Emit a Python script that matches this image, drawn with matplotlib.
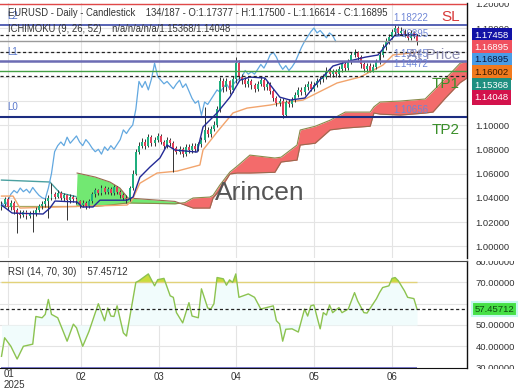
import matplotlib
matplotlib.use("Agg")
import matplotlib.pyplot as plt
from matplotlib.transforms import Bbox, TransformedBbox
import numpy as np

plt.rcParams['font.family'] = ['Liberation Sans', 'DejaVu Sans']

# daily EURUSD candles, bar index 0..133
opens = [1.0320, 1.0350, 1.0390, 1.0320, 1.0360, 1.0300, 1.0270, 1.0260, 1.0280, 1.0250,
         1.0275, 1.0265, 1.0300, 1.0330, 1.0350, 1.0370, 1.0400, 1.0430, 1.0410, 1.0440,
         1.0400, 1.0420, 1.0380, 1.0410, 1.0390, 1.0370, 1.0340, 1.0360, 1.0330, 1.0370,
         1.0430, 1.0460, 1.0440, 1.0480, 1.0450, 1.0470, 1.0440, 1.0485, 1.0450, 1.0420,
         1.0400, 1.0390, 1.0480, 1.0600, 1.0780, 1.0830, 1.0860, 1.0830, 1.0900, 1.0850,
         1.0880, 1.0910, 1.0860, 1.0830, 1.0880, 1.0850, 1.0810, 1.0780, 1.0800, 1.0760,
         1.0820, 1.0790, 1.0830, 1.0800, 1.0840, 1.0880, 1.0960, 1.0930, 1.0970, 1.1000,
         1.1130, 1.1360, 1.1310, 1.1360, 1.1290, 1.1380, 1.1510, 1.1400, 1.1370, 1.1340,
         1.1360, 1.1330, 1.1300, 1.1340, 1.1370, 1.1310, 1.1340, 1.1280, 1.1220, 1.1180,
         1.1200, 1.1080, 1.1190, 1.1170, 1.1210, 1.1250, 1.1290, 1.1270, 1.1310, 1.1340,
         1.1300, 1.1330, 1.1360, 1.1380, 1.1400, 1.1450, 1.1420, 1.1440, 1.1420, 1.1460,
         1.1500, 1.1470, 1.1520, 1.1580, 1.1600, 1.1560, 1.1500, 1.1460, 1.1490, 1.1450,
         1.1480, 1.1520, 1.1580, 1.1640, 1.1690, 1.1730, 1.1770, 1.1800, 1.1760, 1.1780,
         1.1750, 1.1720, 1.1760, 1.17377]
highs = [1.0375, 1.0410, 1.0405, 1.0385, 1.0370, 1.0315, 1.0295, 1.0300, 1.0295, 1.0290,
         1.0295, 1.0320, 1.0350, 1.0375, 1.0395, 1.0420, 1.0520, 1.0450, 1.0465, 1.0455,
         1.0440, 1.0435, 1.0430, 1.0425, 1.0405, 1.0385, 1.0380, 1.0375, 1.0390, 1.0450,
         1.0480, 1.0475, 1.0505, 1.0495, 1.0490, 1.0485, 1.0505, 1.0500, 1.0465, 1.0440,
         1.0420, 1.0500, 1.0625, 1.0800, 1.0860, 1.0890, 1.0885, 1.0930, 1.0920, 1.0905,
         1.0935, 1.0925, 1.0880, 1.0900, 1.0895, 1.0870, 1.0830, 1.0825, 1.0815, 1.0840,
         1.0845, 1.0850, 1.0850, 1.0860, 1.0905, 1.1150, 1.0985, 1.0995, 1.1030, 1.1160,
         1.1400, 1.1390, 1.1390, 1.1375, 1.1405, 1.1560, 1.1540, 1.1420, 1.1395, 1.1385,
         1.1380, 1.1350, 1.1360, 1.1395, 1.1385, 1.1365, 1.1355, 1.1300, 1.1240, 1.1225,
         1.1220, 1.1210, 1.1215, 1.1235, 1.1275, 1.1310, 1.1315, 1.1335, 1.1365, 1.1360,
         1.1355, 1.1385, 1.1405, 1.1425, 1.1475, 1.1470, 1.1465, 1.1460, 1.1485, 1.1525,
         1.1520, 1.1545, 1.1605, 1.1630, 1.1615, 1.1575, 1.1520, 1.1515, 1.1510, 1.1505,
         1.1545, 1.1600, 1.1665, 1.1715, 1.1755, 1.1795, 1.18222, 1.1815, 1.1805, 1.1795,
         1.1770, 1.1785, 1.1780, 1.17500]
lows = [1.0300, 1.0330, 1.0295, 1.0300, 1.0270, 1.0110, 1.0235, 1.0240, 1.0225, 1.0230,
        1.0115, 1.0250, 1.0280, 1.0310, 1.0325, 1.0233, 1.0385, 1.0390, 1.0395, 1.0380,
        1.0375, 1.0216, 1.0360, 1.0365, 1.0345, 1.0315, 1.0320, 1.0305, 1.0315, 1.0355,
        1.0410, 1.0420, 1.0425, 1.0430, 1.0430, 1.0420, 1.0425, 1.0430, 1.0395, 1.0380,
        1.0360, 1.0375, 1.0465, 1.0590, 1.0760, 1.0810, 1.0805, 1.0815, 1.0830, 1.0830,
        1.0860, 1.0840, 1.0805, 1.0810, 1.0825, 1.0610, 1.0760, 1.0760, 1.0740, 1.0745,
        1.0770, 1.0770, 1.0780, 1.0785, 1.0820, 1.0860, 1.0900, 1.0905, 1.0950, 1.0980,
        1.1110, 1.1270, 1.1280, 1.1260, 1.1270, 1.1350, 1.1380, 1.1340, 1.1310, 1.1315,
        1.1300, 1.1275, 1.1280, 1.1320, 1.1290, 1.1290, 1.1260, 1.1200, 1.1160, 1.1155,
        1.1060, 1.1070, 1.1150, 1.1150, 1.1190, 1.1230, 1.1245, 1.1250, 1.1290, 1.1280,
        1.1280, 1.1310, 1.1340, 1.1355, 1.1380, 1.1400, 1.1400, 1.1395, 1.1400, 1.1440,
        1.1450, 1.1455, 1.1500, 1.1560, 1.1540, 1.1470, 1.1435, 1.1440, 1.1435, 1.1435,
        1.1460, 1.1500, 1.1560, 1.1620, 1.1670, 1.1710, 1.1750, 1.1740, 1.1740, 1.1730,
        1.1700, 1.1700, 1.1715, 1.16614]
closes = [1.0350, 1.0390, 1.0320, 1.0360, 1.0300, 1.0270, 1.0260, 1.0280, 1.0250, 1.0275,
          1.0265, 1.0300, 1.0330, 1.0350, 1.0370, 1.0400, 1.0430, 1.0410, 1.0440, 1.0400,
          1.0420, 1.0380, 1.0410, 1.0390, 1.0370, 1.0340, 1.0360, 1.0330, 1.0370, 1.0430,
          1.0460, 1.0440, 1.0480, 1.0450, 1.0470, 1.0440, 1.0485, 1.0450, 1.0420, 1.0400,
          1.0390, 1.0480, 1.0600, 1.0780, 1.0830, 1.0860, 1.0830, 1.0900, 1.0850, 1.0880,
          1.0910, 1.0860, 1.0830, 1.0880, 1.0850, 1.0810, 1.0780, 1.0800, 1.0760, 1.0820,
          1.0790, 1.0830, 1.0800, 1.0840, 1.0880, 1.0960, 1.0930, 1.0970, 1.1000, 1.1130,
          1.1360, 1.1310, 1.1360, 1.1290, 1.1380, 1.1510, 1.1400, 1.1370, 1.1340, 1.1360,
          1.1330, 1.1300, 1.1340, 1.1370, 1.1310, 1.1340, 1.1280, 1.1220, 1.1180, 1.1200,
          1.1080, 1.1190, 1.1170, 1.1210, 1.1250, 1.1290, 1.1270, 1.1310, 1.1340, 1.1300,
          1.1330, 1.1360, 1.1380, 1.1400, 1.1450, 1.1420, 1.1440, 1.1420, 1.1460, 1.1500,
          1.1470, 1.1520, 1.1580, 1.1600, 1.1560, 1.1500, 1.1460, 1.1490, 1.1450, 1.1480,
          1.1520, 1.1580, 1.1640, 1.1690, 1.1730, 1.1770, 1.1800, 1.1760, 1.1780, 1.1750,
          1.1720, 1.1760, 1.1738, 1.16895]

# ichimoku lines (bar, value)
tenkan_x = [0, 3.4, 13.3, 15.5, 17.1, 24.2, 25.8, 29.3, 31.5, 40.2, 42.1, 44.3, 47.5, 50.7,
            53, 55.5, 62.6, 64.5, 69, 73.1, 76.3, 79.5, 84.3, 89.1, 92.4, 97.1, 100.4,
            106.1, 112.5, 116.4, 120.5, 123.7, 126, 133]
tenkan_y = [1.0340, 1.0274, 1.0266, 1.0315, 1.0373, 1.0365, 1.0324, 1.0324, 1.0380, 1.0380,
            1.0406, 1.0570, 1.0653, 1.0728, 1.0835, 1.0794, 1.0777, 1.0984, 1.1100, 1.1230,
            1.1370, 1.1396, 1.1388, 1.1230, 1.1206, 1.1223, 1.1330, 1.1487, 1.1536, 1.1560,
            1.1578, 1.1677, 1.1743, 1.17458]
kijun_x = [0, 3.7, 5.9, 40.2, 41.8, 44.3, 49.8, 56.2, 63.5, 64.5, 69, 74.1, 78.6, 86,
           89.1, 96.5, 107.4, 114.8, 122.1, 125.3, 133]
kijun_y = [1.0414, 1.0414, 1.0315, 1.0340, 1.0380, 1.0520, 1.0604, 1.0620, 1.0670, 1.0794,
           1.0942, 1.1100, 1.1140, 1.1165, 1.1180, 1.1206, 1.1347, 1.1396, 1.1495, 1.1578,
           1.16002]
cloud_x = [0, 15.5, 18.7, 23.8, 24.2, 30, 34.7, 37.9, 40.5, 55.5, 58.7, 61.3, 66.7, 67.7,
           69.9, 73.1, 75.4, 79.5, 87.5, 89.5, 94.6, 95.6, 100.4, 105.2, 110, 118, 119.2,
           121.2, 127.6, 135.6, 138.1, 142, 146.8, 150]
span_a = [1.0330, 1.0330, 1.0330, 1.0330, 1.0330, 1.0330, 1.0340, 1.0350, 1.0357, 1.0350,
          1.0360, 1.0398, 1.0406, 1.0420, 1.0505, 1.0612, 1.0660, 1.0752, 1.0728, 1.0735,
          1.0835, 1.0959, 1.0990, 1.1040, 1.1107, 1.1107, 1.1150, 1.1190, 1.1198, 1.1215,
          1.1280, 1.1380, 1.1510, 1.15368]
span_b = [1.0546, 1.0530, 1.0440, 1.0410, 1.0604, 1.0571, 1.0530, 1.0480, 1.0398, 1.0370,
          1.0340, 1.0315, 1.0315, 1.0398, 1.0464, 1.0596, 1.0604, 1.0604, 1.0610, 1.0695,
          1.0711, 1.0835, 1.0850, 1.0960, 1.0975, 1.0990, 1.1099, 1.1090, 1.1082, 1.1099,
          1.1107, 1.1220, 1.1350, 1.14048]
cloud_start = 24

# horizontal levels
level_vals = [1.2000, 1.18222, 1.17458, 1.16895, 1.16002, 1.15245, 1.14472, 1.14048, 1.10656]
level_cols = ['#e04848', '#3a48a8', '#222222', '#9a9a9a', '#222222', '#6c6cb4', '#45a045',
              '#222222', '#1c2c80']
level_lw = [1.0, 1.2, 0.9, 1.0, 0.9, 1.8, 1.0, 0.9, 1.5]
level_dash = [False, False, True, False, True, False, False, True, False]

tag_texts = ['1.17458', '1.16895', '1.16895', '1.16002', '1.15368', '1.14048']
tag_bg = ['#1212a6', '#f0505e', '#4a9ce6', '#f27a1e', '#1f8f80', '#d3124c']
tag_fg = ['white', 'white', '#0c1a40', '#3a1a00', 'white', 'white']

# RSI(14)
rsi_x = [0, 1, 3, 5, 7, 10, 11, 13, 14, 15, 16, 18, 21, 23, 24, 26, 28, 31, 33, 34,
         35, 36, 37, 39, 40, 43, 44, 47, 49, 50, 52, 54, 55, 56, 58, 60, 61, 63, 64, 66,
         67, 68, 69, 71, 72, 73, 74, 75, 76, 79, 81, 83, 87, 88, 89, 90, 91, 93, 95, 97,
         98, 99, 100, 102, 103, 104, 105, 106, 108, 109, 111, 113, 114, 116, 117, 120, 121, 122, 124, 125,
         126, 127, 128, 129, 130, 132, 133]
rsi_v = [35.3, 44, 40, 34, 40, 41, 54, 53.4, 55, 62, 55, 53.4, 42.4, 50.4, 48.7, 40, 47, 60, 52, 58,
         54.2, 54, 59, 46.3, 44.8, 70, 70.8, 74, 68.4, 71.3, 71.9, 63.7, 63, 55.8, 51, 60.5, 54.2, 53.4, 67, 58,
         57.5, 60, 72.3, 71.7, 68.7, 71.2, 70, 74, 63, 64.6, 63, 57.5, 59, 52, 50.5, 42.4, 48, 48.2, 46.7, 57.5,
         54.2, 59, 59.4, 48.2, 55.8, 54.7, 59.4, 55.8, 58.2, 55.8, 57.5, 65.2, 61.3, 55.8, 55.6, 62.3, 65.2, 67.6, 68.4, 71.9,
         72.3, 70.8, 68.4, 66, 63, 62.4, 57.45712]
rsi_last = 57.45712

month_ticks = [2, 25.5, 50.5, 75, 100, 125]
month_labels = ['01', '02', '03', '04', '05', '06']

W, H = 520, 390
def fx(px):
    return px / W
def fy(py):
    return 1 - py / H

fig = plt.figure(figsize=(5.2, 3.9), dpi=100)
ax = fig.add_axes([0, fy(258), fx(467), fy(3) - fy(258)])
ax2 = fig.add_axes([0, fy(368), fx(467), fy(260.5) - fy(368)], sharex=ax)

x = np.arange(len(closes))
o = np.array(opens); h = np.array(highs); l = np.array(lows); c = np.array(closes)
up = c >= o

# grid
for a in (ax, ax2):
    a.set_facecolor('white')
    a.grid(True, color='#e4e4e4', lw=0.8)
    a.set_axisbelow(True)
    for s in ('left', 'top', 'bottom'):
        a.spines[s].set_visible(False)
    a.spines['right'].set_color('#111111')
    a.spines['right'].set_linewidth(1.0)
    a.yaxis.tick_right()
    a.tick_params(axis='y', length=0, pad=6, labelsize=6.8, labelcolor='#333333')
    a.tick_params(axis='x', length=0)

ax.set_xlim(-0.48, 149.0)
ax.set_ylim(0.9903, 1.2007)
ax.set_yticks(np.arange(1.00, 1.2001, 0.02))
ax.yaxis.set_major_formatter(plt.FormatStrFormatter('%.5f'))
ax.set_xticks(month_ticks[1:])
plt.setp(ax.get_xticklabels(), visible=False)

# cloud
cx = np.array(cloud_x); sa = np.array(span_a); sb = np.array(span_b)
ax.fill_between(cx, sa, sb, where=(sa >= sb) & (cx >= cloud_start), interpolate=True,
                color='#f36b6b', lw=0, zorder=2)
ax.fill_between(cx, sa, sb, where=(sb >= sa) & (cx >= cloud_start), interpolate=True,
                color='#72e872', lw=0, zorder=2)
left = cx <= cloud_start
ax.plot(cx[left], sa[left], color='#a8a860', lw=0.9, zorder=3)
ax.plot(cx[~left], sa[~left], color='#8a8a4a', lw=0.8, zorder=3)
ax.plot(cx[cx < cloud_start], sb[cx < cloud_start], color='#4aa0a0', lw=1.0, zorder=3)
ax.plot(cx[cx >= cloud_start], sb[cx >= cloud_start], color='#9a6a50', lw=0.8, zorder=3)

# chikou (close shifted back 26 bars)
ax.plot(x[:-26], c[26:], color='#62a8e0', lw=0.9, zorder=3)
ax.plot(kijun_x, kijun_y, color='#f2a46c', lw=1.0, zorder=3)
ax.plot(tenkan_x, tenkan_y, color='#232a96', lw=1.0, zorder=5)

# candles
ax.vlines(x, l, h, color='#333333', lw=0.7, zorder=4)
ax.bar(x[up], (c - o)[up], bottom=o[up], width=0.62, color='#1fae7e', lw=0, zorder=4)
ax.bar(x[~up], (c - o)[~up], bottom=o[~up], width=0.62, color='#e2405a', lw=0, zorder=4)

# levels
for v, col, lw, dsh in zip(level_vals, level_cols, level_lw, level_dash):
    if dsh:
        ax.axhline(v, color=col, lw=lw, ls=(0, (2.5, 2.0)), zorder=6)
    else:
        ax.axhline(v, color=col, lw=lw, zorder=6)

ytr = ax.get_yaxis_transform()
for txt, v in [('L2', level_vals[1]), ('L1', level_vals[5]), ('L0', level_vals[8])]:
    ax.annotate(txt, xy=(0.016, v), xycoords=ytr, xytext=(0, 7), textcoords='offset points',
                va='center', ha='left', fontsize=7, color='#5a78cc', zorder=7)
for v in [level_vals[1], level_vals[3], level_vals[5], level_vals[6], level_vals[8]]:
    ax.annotate('%.5f' % v, xy=(125.3, v), xytext=(0, 1.5), textcoords='offset points',
                va='bottom', ha='left', fontsize=7, color='#6f86d6', zorder=7)
ax.annotate('SL', xy=(0.985, level_vals[0]), xycoords=ytr, xytext=(0, -9.5),
            textcoords='offset points', va='center', ha='right', fontsize=11, color='#d83a3a', zorder=7)
ax.annotate('TP1', xy=(0.985, level_vals[6]), xycoords=ytr, xytext=(0, -9.5),
            textcoords='offset points', va='center', ha='right', fontsize=11, color='#3a8f2a', zorder=7)
ax.annotate('TP2', xy=(0.985, level_vals[8]), xycoords=ytr, xytext=(0, -9.5),
            textcoords='offset points', va='center', ha='right', fontsize=11, color='#3a8f2a', zorder=7)
ax.annotate('At Price', xy=(0.985, level_vals[5]), xycoords=ytr, xytext=(0, 4.5),
            textcoords='offset points', va='center', ha='right', fontsize=11, color='#7c7ca4',
            alpha=0.85, zorder=7)

fig.text(fx(260), fy(193), 'Arincen', fontsize=19, color='#555555', ha='center', va='center', zorder=8)

# header texts
fig.text(fx(8), fy(13), 'EURUSD - Daily - Candlestick    134/187 - O:1.17377 - H:1.17500 - L:1.16614 - C:1.16895',
         fontsize=6.85, color='#333333', va='center', zorder=9)
fig.text(fx(8), fy(29), 'ICHIMOKU (9, 26, 52)    n/a/n/a/n/a/1.15368/1.14048',
         fontsize=6.85, color='#333333', va='center', zorder=9)

# value tags on the right
tag_y = [35, 47.5, 60, 72.5, 85, 97.5]
for t, bg, fg, py in zip(tag_texts, tag_bg, tag_fg, tag_y):
    fig.text(fx(474.5), fy(py), t, fontsize=6.8, color=fg, va='center', ha='left', zorder=10,
             bbox=dict(boxstyle='square,pad=0.3', fc=bg, ec='none'))

# RSI pane
rx = np.array(rsi_x); rv = np.array(rsi_v)
ax2.set_ylim(29.8, 80.3)
ax2.set_yticks([30, 40, 50, 60, 70, 80])
ax2.yaxis.set_major_formatter(plt.FormatStrFormatter('%.5f'))
ax2.spines['top'].set_visible(True)
ax2.spines['top'].set_color('#444444')
ax2.spines['bottom'].set_visible(True)
ax2.spines['bottom'].set_color('#111111')
ax2.fill_between(rx, rv, 50, color='#f1fcfc', lw=0, zorder=1)
ax2.fill_between(rx, rv, 70, where=rv > 70, interpolate=True, color='#c9dc3c', lw=0, zorder=2)
ax2.hlines(70, x[0], x[-1], color='#e2d27a', lw=1.0, zorder=2)
ax2.hlines(30, x[0], x[-1], color='#7a7ad0', lw=1.4, zorder=2)
ax2.plot(rx, rv, color='#8cc350', lw=1.0, zorder=3)
ax2.axhline(rsi_last, color='#222222', lw=0.9, ls=(0, (2.5, 2.0)), zorder=4)

ax2.set_xticks(month_ticks)
ax2.set_xticklabels([''] + month_labels[1:])
ax2.tick_params(axis='x', labelsize=7, labelcolor='#333333', pad=3)
fig.text(fx(4), fy(374), month_labels[0], fontsize=7, color='#333333', va='center', ha='left')
fig.text(fx(4), fy(385), '2025', fontsize=7, color='#333333', va='center', ha='left')

fig.text(fx(8), fy(272), 'RSI (14, 70, 30)    57.45712', fontsize=7, color='#333333', va='center')
fig.text(fx(474.5), fy(309), '%.5f' % rsi_last, fontsize=6.8, color='#0e4a10', va='center', ha='left',
         zorder=10, bbox=dict(boxstyle='square,pad=0.3', fc='#46e046', ec='#c8f8f0', lw=1.5))

# price labels are cut at the pane edges
clip_main = TransformedBbox(Bbox([[fx(467), fy(258)], [1, fy(3)]]), fig.transFigure)
clip_rsi = TransformedBbox(Bbox([[fx(467), fy(369)], [1, fy(260.5)]]), fig.transFigure)
for t in ax.yaxis.get_major_ticks():
    t.label2.set_clip_box(clip_main)
for t in ax2.yaxis.get_major_ticks():
    t.label2.set_clip_box(clip_rsi)

fig.savefig('out.png', dpi=100, facecolor='white')
